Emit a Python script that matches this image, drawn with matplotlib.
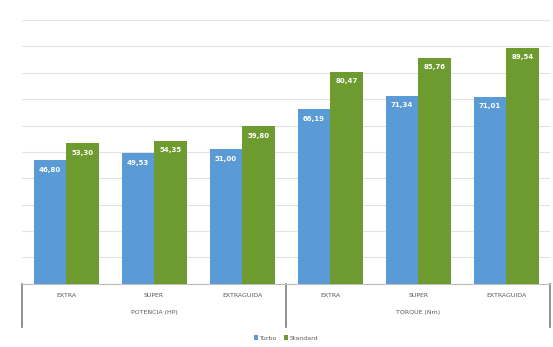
import matplotlib
matplotlib.use("Agg")
import matplotlib.pyplot as plt
import numpy as np
from matplotlib.transforms import blended_transform_factory

categories = ["EXTRA", "SUPER", "EXTRAGUIDA", "EXTRA", "SUPER", "EXTRAGUIDA"]
groups = ["POTENCIA (HP)", "TORQUE (Nm)"]
series_names = ["Turbo", "Standard"]
blue_vals = [46.80, 49.53, 51.00, 66.19, 71.34, 71.01]
green_vals = [53.3, 54.35, 59.8, 80.47, 85.76, 89.54]

blue = "#5B9BD5"
green = "#6E9B2F"

fig = plt.figure(figsize=(5.53, 3.47), dpi=100)
ax = fig.add_axes([0.04, 0.182, 0.955, 0.76])

x = np.arange(len(categories))
w = 0.37
b1 = ax.bar(x - w / 2, blue_vals, w, color=blue, label=series_names[0], zorder=3)
b2 = ax.bar(x + w / 2, green_vals, w, color=green, label=series_names[1], zorder=3)

def fmt(v):
    return f"{v:.2f}".replace(".", ",")

for bars, vals in ((b1, blue_vals), (b2, green_vals)):
    for r, v in zip(bars, vals):
        ax.text(r.get_x() + r.get_width() / 2, v - 2.5, fmt(v), ha="center", va="top",
                color="white", fontsize=5, fontweight="bold", zorder=4)

ax.set_xlim(-0.5, len(categories) - 0.5)
ax.set_ylim(0, 100)
ax.set_yticks(np.arange(0, 101, 10))
ax.yaxis.grid(True, color="#e3e3e3", linewidth=0.8, zorder=0)
ax.tick_params(left=False, labelleft=False, bottom=False, labelbottom=False)
for s in ["top", "right", "left"]:
    ax.spines[s].set_visible(False)
ax.spines["bottom"].set_color("#bfbfbf")

trans = blended_transform_factory(ax.transData, ax.transAxes)
for xi, c in zip(x, categories):
    ax.text(xi, -0.045, c, transform=trans, ha="center", va="center", fontsize=4.5, color="#595959")
n = len(categories) // len(groups)
for gi, g in enumerate(groups):
    cx = gi * n + (n - 1) / 2
    ax.text(cx, -0.11, g, transform=trans, ha="center", va="center", fontsize=4.5, color="#595959")
for xs in [-0.5, n - 0.5, len(categories) - 0.5]:
    ax.plot([xs, xs], [0, -0.165], transform=trans, color="#7f7f7f", linewidth=1.2, clip_on=False)

leg = ax.legend(loc="center", bbox_to_anchor=(0.5, -0.205), ncol=2, frameon=False,
                fontsize=4.5, handlelength=0.7, handleheight=0.7, columnspacing=1.0,
                handletextpad=0.3)
for t in leg.get_texts():
    t.set_color("#595959")

fig.savefig("out.png", dpi=100)
